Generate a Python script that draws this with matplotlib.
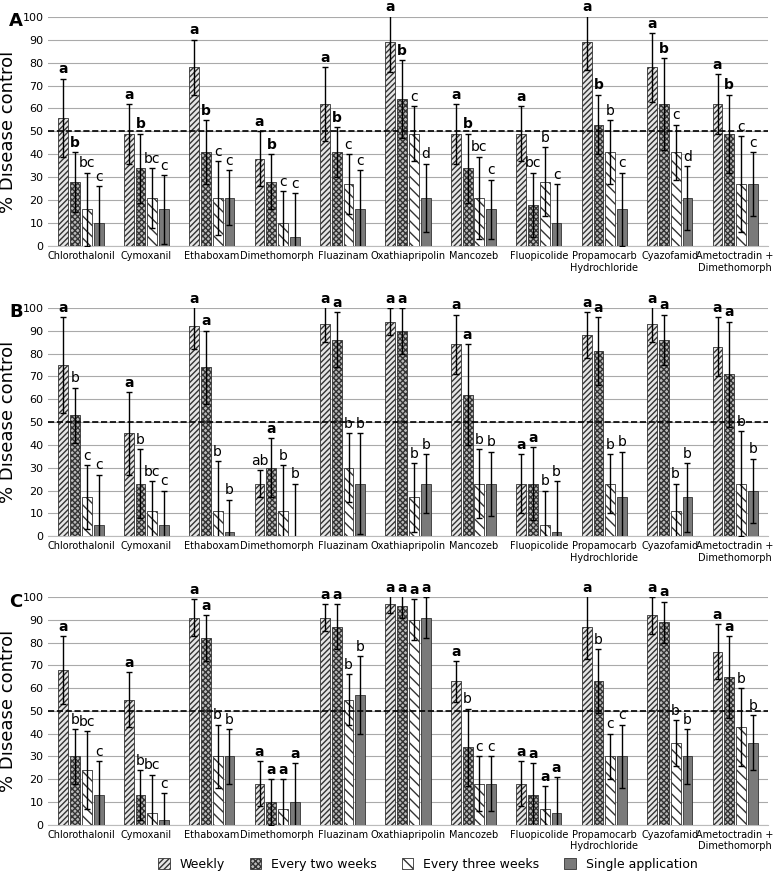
import matplotlib
matplotlib.use("Agg")
import matplotlib.pyplot as plt
import numpy as np

products = ["Chlorothalonil", "Cymoxanil", "Ethaboxam", "Dimethomorph", "Fluazinam",
            "Oxathiapripolin", "Mancozeb", "Fluopicolide", "Propamocarb\nHydrochloride",
            "Cyazofamid", "Ametoctradin +\nDimethomorph"]
series = ["Weekly", "Every two weeks", "Every three weeks", "Single application"]

A_vals = [[56,28,16,10],[49,34,21,16],[78,41,21,21],[38,28,10,4],[62,41,27,16],[89,64,49,21],
          [49,34,21,16],[49,18,28,10],[89,53,41,16],[78,62,41,21],[62,49,27,27]]
A_err = [[17,13,16,16],[13,15,13,15],[12,14,16,12],[12,12,14,19],[16,11,13,17],[13,17,12,15],
         [13,15,18,13],[12,14,15,17],[12,13,14,16],[15,20,12,14],[13,17,21,14]]
A_let = [["a","b","bc","c"],["a","b","bc","c"],["a","b","c","c"],["a","b","c","c"],["a","b","c","c"],
         ["a","b","c","d"],["a","b","bc","c"],["a","bc","b","c"],["a","b","b","c"],["a","b","c","d"],
         ["a","b","c","c"]]
B_vals = [[75,53,17,5],[45,23,11,5],[92,74,11,2],[23,30,11,0],[93,86,30,23],[94,90,17,23],
          [84,62,23,23],[23,23,5,2],[88,81,23,17],[93,86,11,17],[83,71,23,20]]
B_err = [[21,12,14,22],[18,15,13,15],[10,16,22,14],[6,13,20,23],[8,12,15,22],[6,10,15,13],
         [13,22,15,14],[13,16,15,22],[10,15,13,20],[8,11,12,15],[13,23,23,14]]
B_let = [["a","b","c","c"],["a","b","bc","c"],["a","a","b","b"],["ab","a","b","b"],["a","a","b","b"],
         ["a","a","b","b"],["a","a","b","b"],["a","a","b","b"],["a","a","b","b"],["a","a","b","b"],
         ["a","a","b","b"]]
C_vals = [[68,30,24,13],[55,13,5,2],[91,82,30,30],[18,10,7,10],[91,87,55,57],[97,96,90,91],
          [63,34,18,18],[18,13,7,5],[87,63,30,30],[92,89,36,30],[76,65,43,36]]
C_err = [[15,12,17,15],[12,11,17,12],[8,10,14,12],[10,10,13,17],[6,10,11,17],[4,5,9,9],
         [9,17,12,12],[10,14,10,16],[14,14,10,14],[8,9,10,12],[12,18,17,12]]
C_let = [["a","b","bc","c"],["a","b","bc","c"],["a","a","b","b"],["a","a","a","a"],["a","a","b","b"],
         ["a","a","a","a"],["a","b","c","c"],["a","a","a","a"],["a","b","c","c"],["a","a","b","b"],
         ["a","a","b","b"]]

styles = [dict(color="#e6e6e6", hatch="//////"),
          dict(color="#bbbbbb", hatch="xxxxxx"),
          dict(color="white", hatch="\\\\\\"),
          dict(color="#7a7a7a", hatch="")]

fig = plt.figure(figsize=(7.78, 8.82), dpi=100)
boxes = [(0.721, 0.981), (0.392, 0.651), (0.065, 0.323)]
panels = [("A", A_vals, A_err, A_let), ("B", B_vals, B_err, B_let), ("C", C_vals, C_err, C_let)]
x = np.arange(len(products))
w = 0.15
legend_handles = []
for (name, vals, errs, lets), (b, t) in zip(panels, boxes):
    ax = fig.add_axes([0.062, b, 0.925, t - b])
    vals = np.array(vals); errs = np.array(errs)
    for s in range(4):
        xs = x + (s - 1.5) * (w + 0.03)
        bars = ax.bar(xs, vals[:, s], w, facecolor=styles[s]["color"], hatch=styles[s]["hatch"],
                      edgecolor="#333333", linewidth=0.6, zorder=3, label=series[s])
        ax.errorbar(xs, vals[:, s], yerr=errs[:, s], fmt="none", ecolor="black",
                    elinewidth=1, capsize=2, zorder=4)
        for i in range(len(products)):
            top = min(vals[i, s] + errs[i, s], 100)
            lt = lets[i][s]
            bold = (lt == "a") or (name == "A" and s == 1 and lt == "b")
            ax.text(xs[i], top + 1, lt, ha="center", va="bottom", fontsize=10,
                    fontweight="bold" if bold else "normal", zorder=5, clip_on=False)
        if name == "A":
            legend_handles.append(bars)
    ax.axhline(50, color="black", linestyle="--", linewidth=1.2, zorder=4)
    ax.set_ylim(0, 100)
    ax.set_xlim(-0.5, len(products) - 0.5)
    ax.set_yticks(range(0, 101, 10))
    ax.tick_params(axis="y", labelsize=8, length=0)
    ax.set_xticks(x)
    ax.set_xticklabels(products, fontsize=7)
    ax.tick_params(axis="x", length=0)
    ax.grid(axis="y", color="#aaaaaa", linewidth=0.8, zorder=0)
    for sp in ["top", "right", "left"]:
        ax.spines[sp].set_visible(False)
    ax.spines["bottom"].set_color("#bbbbbb")
    ax.set_ylabel("% Disease control", fontsize=13)
    fig.text(0.012, t - 0.005, name, fontsize=13, fontweight="bold", va="center")

fig.legend(legend_handles, series, loc="lower center", ncol=4, frameon=False,
           fontsize=9, bbox_to_anchor=(0.55, 0.0), handlelength=0.9, handleheight=0.9,
           columnspacing=2)
fig.savefig("out.png", dpi=100)
